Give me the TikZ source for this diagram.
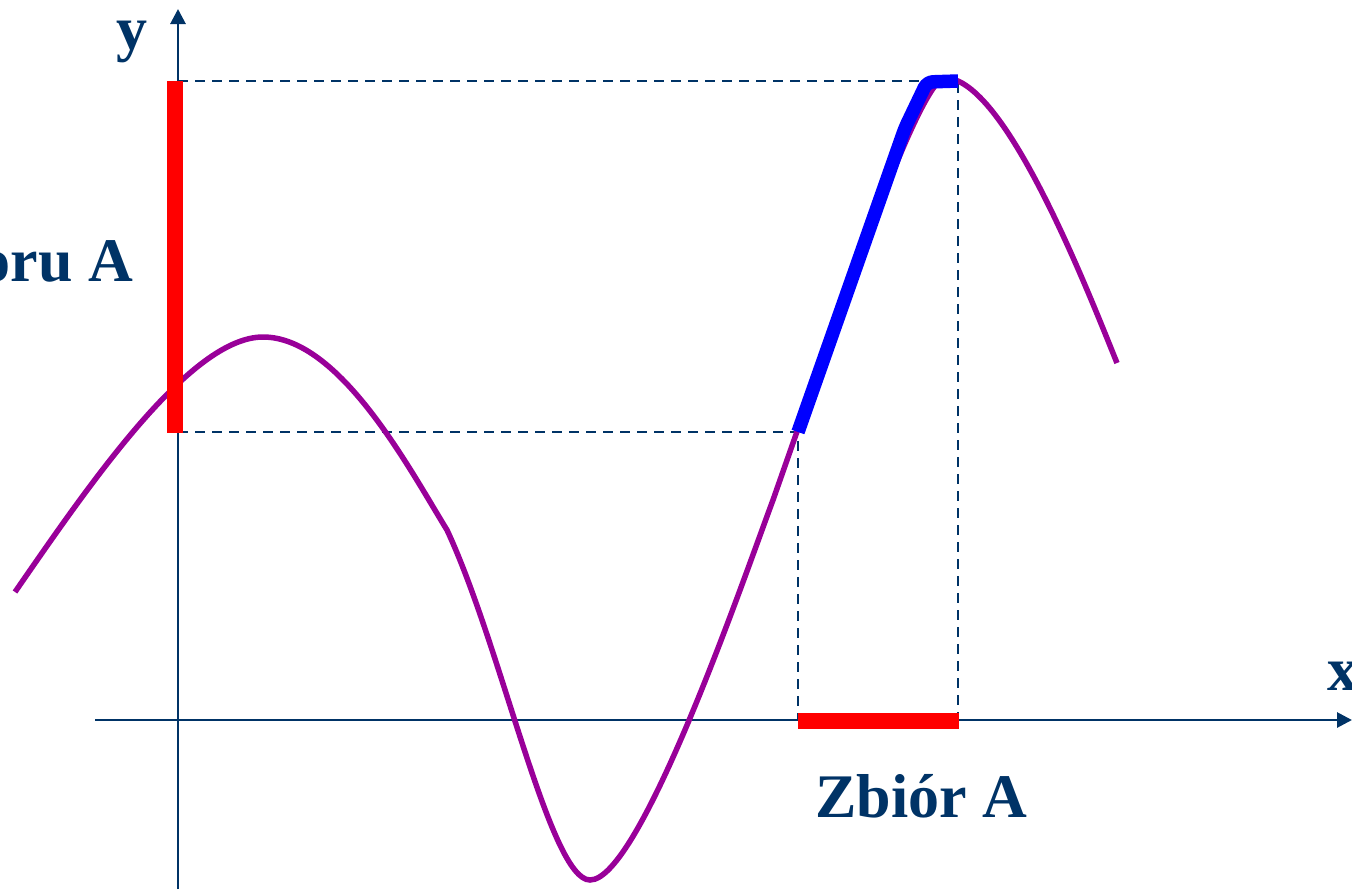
\documentclass[tikz,border=0pt]{standalone}
\usepackage{fontspec}
\setmainfont{Liberation Serif}
\usetikzlibrary{arrows.meta}
\definecolor{navy}{RGB}{0,51,102}
\definecolor{curvepurple}{RGB}{153,0,153}
\definecolor{barred}{RGB}{255,0,0}
\definecolor{barblue}{RGB}{0,0,255}
\tikzset{
  axisline/.style={draw=navy, line width=2.8pt, -{Triangle[length=15pt,width=15pt]}},
  guide/.style={draw=navy, line width=2.6pt, dash pattern=on 10pt off 7pt},
  graphline/.style={draw=curvepurple, line width=5.5pt},
  label/.style={text=navy, font=\fontsize{62}{62}\selectfont\bfseries, inner sep=0pt},
}
\begin{document}
\begin{tikzpicture}[x=1pt,y=-1pt]
\clip (0,0) rectangle (1352,889);
\useasboundingbox (0,0) rectangle (1352,889);
% key points
\coordinate (O) at (178,720);
\coordinate (ytop) at (178,9);
\coordinate (ybot) at (178,889);
\coordinate (xleft) at (95,720);
\coordinate (xright) at (1352,720);
\coordinate (ylow) at (178,432);
\coordinate (yhigh) at (178,81);
\coordinate (pA) at (798,432);
\coordinate (pB) at (958,81);
\coordinate (xa) at (798,720);
\coordinate (xb) at (958,720);
% dashed guides
\draw[guide] (yhigh) -- (pB) -- (xb);
\draw[guide] (ylow) -- (pA) -- (xa);
% axes
\draw[axisline] (xleft) -- (xright);
\draw[axisline] (ybot) -- (ytop);
% curve
\draw[graphline, line cap=butt]
  (15,592) .. controls (89,485) and (190,337) .. (263,337)
  .. controls (340,337) and (410,470) .. (447,530)
  .. controls (502,648) and (550,880) .. (590,880)
  .. controls (640,880) and (741.5,584.6) .. (773,500)
  .. controls (839,312) and (920,78) .. (945,78)
  .. controls (1005,78) and (1087,289) .. (1117,363);
% red bars
\fill[barred] (167,81) rectangle (183,433);
\fill[barred] (798,713) rectangle (959,729);
% blue segment
\draw[barblue, line width=13.5pt, line join=round, line cap=butt, rounded corners=6pt]
  (pA) -- (905,128) -- (927,82) -- (pB);
% labels
\node[label, anchor=base east] (ylab) at (148,49) {y};
\node[label, anchor=base west] (xlab) at (1327,690) {x};
\node[label, anchor=base west] (setA) at (815,817) {Zbiór A};
\node[label, anchor=base east] (imgA) at (133,281) {Obraz zbioru A};
\end{tikzpicture}
\end{document}
